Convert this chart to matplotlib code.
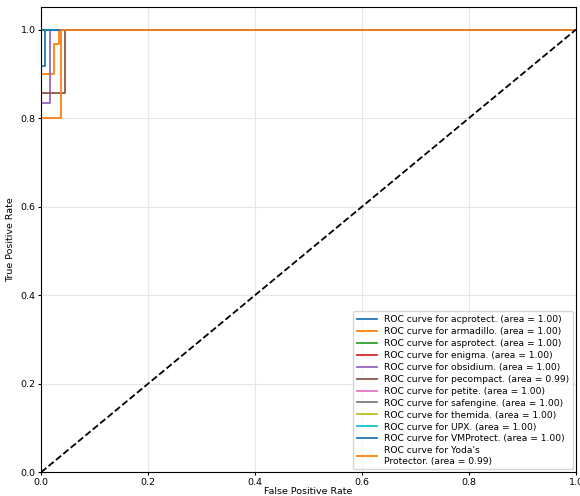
import matplotlib
matplotlib.use("Agg")
import matplotlib.pyplot as plt
import numpy as np

names = ["acprotect", "armadillo", "asprotect", "enigma", "obsidium", "pecompact",
         "petite", "safengine", "themida", "UPX", "VMProtect", "Yoda's\nProtector"]
areas = [1.00, 1.00, 1.00, 1.00, 1.00, 0.99, 1.00, 1.00, 1.00, 1.00, 1.00, 0.99]

# step points (fpr, tpr)
fprs = [
    [0.0, 0.008, 0.008, 1.0],
    [0.0, 0.024, 0.024, 0.034, 0.034, 1.0],
    [0.0, 0.0, 1.0],
    [0.0, 0.0, 1.0],
    [0.0, 0.017, 0.017, 1.0],
    [0.0, 0.044, 0.044, 1.0],
    [0.0, 0.0, 1.0],
    [0.0, 0.0, 1.0],
    [0.0, 0.0, 1.0],
    [0.0, 0.0, 1.0],
    [0.0, 0.0, 1.0],
    [0.0, 0.037, 0.037, 1.0],
]
tprs = [
    [0.917, 0.917, 1.0, 1.0],
    [0.9, 0.9, 0.967, 0.967, 1.0, 1.0],
    [0.0, 1.0, 1.0],
    [0.0, 1.0, 1.0],
    [0.833, 0.833, 1.0, 1.0],
    [0.857, 0.857, 1.0, 1.0],
    [0.0, 1.0, 1.0],
    [0.0, 1.0, 1.0],
    [0.0, 1.0, 1.0],
    [0.0, 1.0, 1.0],
    [0.0, 1.0, 1.0],
    [0.8, 0.8, 1.0, 1.0],
]

colors = ["#1f77b4", "#ff7f0e", "#2ca02c", "#d62728", "#9467bd", "#8c564b",
          "#e377c2", "#7f7f7f", "#bcbd22", "#17becf", "#1f77b4", "#ff7f0e"]

fig = plt.figure(figsize=(5.8, 4.96), dpi=100)
ax = fig.add_axes([0.071, 0.048, 0.922, 0.937])

for i in range(len(names)):
    ax.plot(fprs[i], tprs[i], color=colors[i], lw=1.3,
            label="ROC curve for %s. (area = %.2f)" % (names[i], areas[i]))

ax.plot([0, 1], [0, 1], "k--", lw=1.3)
ax.set_xlim(0.0, 1.0)
ax.set_ylim(0.0, 1.05)
ax.grid(True, color="#e6e6e6", lw=0.8)
ax.tick_params(labelsize=6.8, length=2.5, pad=1.5)
ax.set_xlabel("False Positive Rate", fontsize=6.8, labelpad=0)
ax.set_ylabel("True Positive Rate", fontsize=6.8, labelpad=4)
ax.legend(loc="lower right", fontsize=6.6, handlelength=2.2, labelspacing=0.32,
          borderaxespad=0.3)

fig.savefig("out.png", dpi=100)
